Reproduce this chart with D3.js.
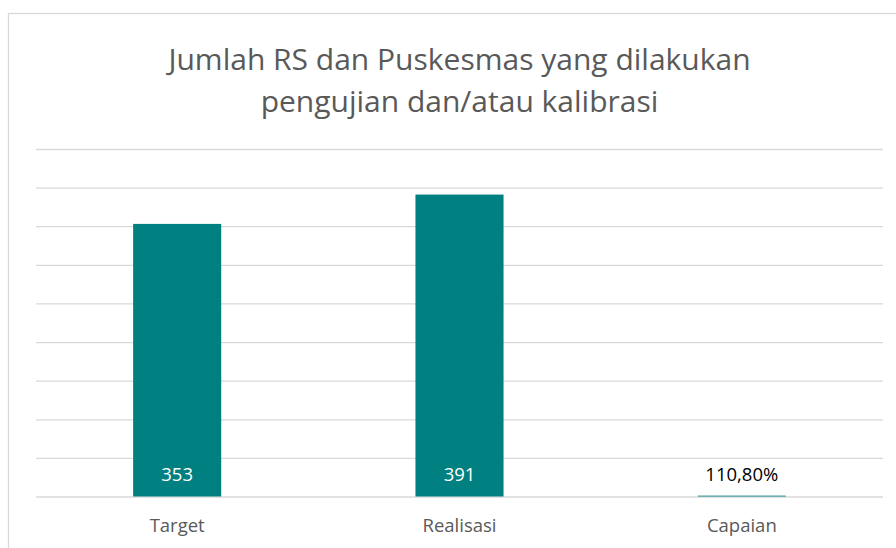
<!DOCTYPE html>
<html>
<head>
  <style>
    body {
      margin: 0;
      background: #fff;
      font-family: "Open Sans", sans-serif;
    }
    .grid .domain { display: none; }
    .grid line { stroke: #d9d9d9; stroke-width: 1.3; }
    .cat { fill: #595959; font-size: 18.5px; text-anchor: middle; }
    .label { font-size: 18.5px; text-anchor: middle; }
    .title { fill: #595959; font-size: 30px; text-anchor: middle; }
  </style>
</head>
<body>
  <script src="https://d3js.org/d3.v7.min.js"></script>
  <script>
    var categories = ["Target", "Realisasi", "Capaian"];
    var values = [353, 391, 1.108];
    var labels = ["353", "391", "110,80%"];
    var gridTicks = [0, 50, 100, 150, 200, 250, 300, 350, 400, 450];
    var titleLines = ["Jumlah RS dan Puskesmas yang dilakukan", "pengujian dan/atau kalibrasi"];

    var W = 896, H = 548;
    var plotLeft = 36, plotRight = 883, plotTop = 149, plotBottom = 496.5;

    var svg = d3.select("body").append("svg")
        .attr("width", W)
        .attr("height", H);

    // chart frame (cut off on right and bottom)
    svg.append("rect")
        .attr("x", 8.5).attr("y", 13.5)
        .attr("width", 900).attr("height", 560)
        .attr("fill", "#fff")
        .attr("stroke", "#d9d9d9")
        .attr("stroke-width", 1.3);

    var x = d3.scaleBand()
      .domain(categories)
      .range([plotLeft, plotRight])
      .paddingInner(0.688)
      .paddingOuter(0.344);

    var y = d3.scaleLinear()
      .domain([0, 450])
      .range([plotBottom, plotTop]);

    svg.append("g")
        .attr("class", "grid")
        .attr("transform", "translate(" + plotLeft + ",0)")
        .call(d3.axisRight(y).tickValues(gridTicks).tickSize(plotRight - plotLeft).tickFormat(""));

    svg.selectAll(".bar")
      .data(values)
      .enter().append("rect")
        .attr("class", "bar")
        .attr("x", function(d, i){ return x(categories[i]); })
        .attr("y", function(d){ return y(d); })
        .attr("width", x.bandwidth())
        .attr("height", function(d){ return y(0) - y(d); })
        .attr("fill", "#008080");

    svg.selectAll(".label")
      .data(values)
      .enter().append("text")
        .attr("class", "label")
        .attr("x", function(d, i){ return x(categories[i]) + x.bandwidth() / 2; })
        .attr("y", y(0) - 16)
        .attr("fill", function(d){ return y(0) - y(d) > 30 ? "#fff" : "#000"; })
        .text(function(d, i){ return labels[i]; });

    svg.selectAll(".cat")
      .data(categories)
      .enter().append("text")
        .attr("class", "cat")
        .attr("x", function(d){ return x(d) + x.bandwidth() / 2; })
        .attr("y", 532)
        .text(function(d){ return d; });

    svg.selectAll(".title")
      .data(titleLines)
      .enter().append("text")
        .attr("class", "title")
        .attr("x", (plotLeft + plotRight) / 2)
        .attr("y", function(d, i){ return 70 + i * 42; })
        .text(function(d){ return d; });
  </script>
</body>
</html>
